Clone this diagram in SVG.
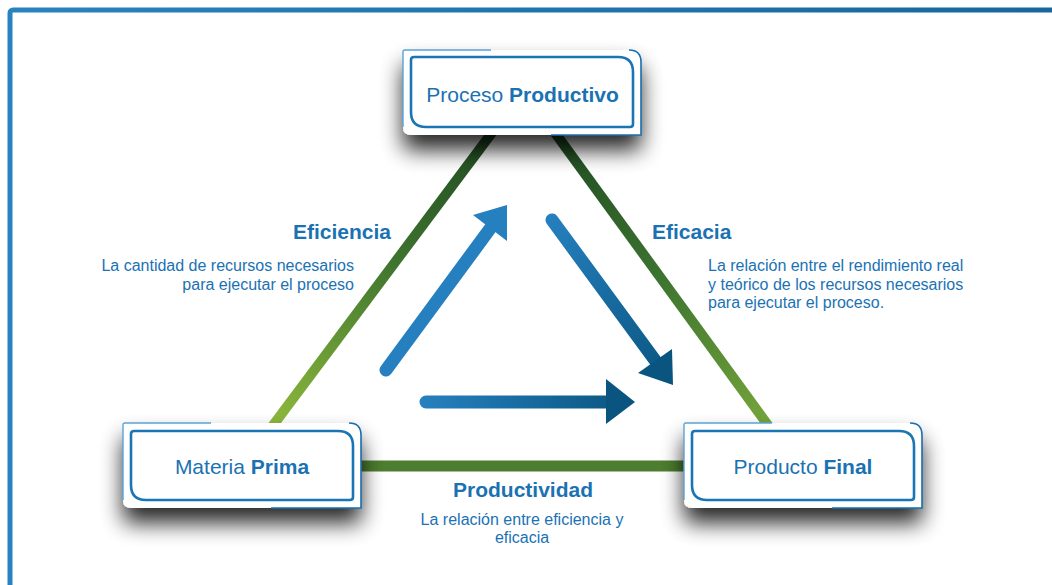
<svg xmlns="http://www.w3.org/2000/svg" width="1052" height="585" viewBox="0 0 1052 585">
  <style>
    text { font-family: "Liberation Sans", Arial, Helvetica, sans-serif; fill: #1a72b3; }
    .head { font-size: 21px; font-weight: bold; }
    .desc { font-size: 16px; }
    .node-text { font-size: 21px; }
    .b { font-weight: bold; }
    .inner { fill: #ffffff; stroke: #1a75b5; stroke-width: 2.6; }
    .outer { fill: #ffffff; }
    .edge-light { fill: none; stroke: #5aa3d6; stroke-width: 1.4; }
    .edge-dark { fill: none; stroke: #1a6fae; stroke-width: 1.6; }
  </style>
  <defs>
    <linearGradient id="frameGrad" x1="0" y1="0" x2="1052" y2="0" gradientUnits="userSpaceOnUse">
      <stop offset="0" stop-color="#2a82c0"/>
      <stop offset="1" stop-color="#17679c"/>
    </linearGradient>
    <linearGradient id="gLeft" x1="494" y1="130" x2="271" y2="428" gradientUnits="userSpaceOnUse">
      <stop offset="0" stop-color="#1f4a22"/>
      <stop offset="0.45" stop-color="#3f752f"/>
      <stop offset="1" stop-color="#8fba3c"/>
    </linearGradient>
    <linearGradient id="gRight" x1="553" y1="130" x2="770" y2="428" gradientUnits="userSpaceOnUse">
      <stop offset="0" stop-color="#1f4a22"/>
      <stop offset="0.5" stop-color="#3d7430"/>
      <stop offset="1" stop-color="#76a63a"/>
    </linearGradient>
    <linearGradient id="a2" x1="548" y1="215" x2="673" y2="385" gradientUnits="userSpaceOnUse">
      <stop offset="0" stop-color="#2680bf"/>
      <stop offset="1" stop-color="#09557f"/>
    </linearGradient>
    <linearGradient id="a3" x1="420" y1="0" x2="635" y2="0" gradientUnits="userSpaceOnUse">
      <stop offset="0" stop-color="#2680bf"/>
      <stop offset="1" stop-color="#09557f"/>
    </linearGradient>
    <filter id="shadow" x="-25%" y="-40%" width="150%" height="220%">
      <feGaussianBlur in="SourceAlpha" stdDeviation="11"/>
      <feOffset dx="0" dy="15" result="b"/>
      <feComponentTransfer><feFuncA type="linear" slope="0.85"/></feComponentTransfer>
      <feMerge><feMergeNode/><feMergeNode in="SourceGraphic"/></feMerge>
    </filter>
    <g id="nodeShape">
      <path class="outer" d="M2,0 H228 Q238,0 238,10 V85 H8 Q0,85 0,77 V2 Q0,0 2,0 Z"/>
    </g>
  </defs>

  <rect x="0" y="0" width="1052" height="585" fill="#ffffff"/>
  <rect x="10" y="10" width="1100" height="700" rx="3" fill="none" stroke="url(#frameGrad)" stroke-width="5"/>

  <g id="connectors">
    <line x1="494" y1="130" x2="271" y2="428" stroke="url(#gLeft)" stroke-width="10"/>
    <line x1="553" y1="130" x2="770" y2="428" stroke="url(#gRight)" stroke-width="10"/>
    <line x1="355" y1="466" x2="690" y2="466" stroke="#4d7d2e" stroke-width="11"/>

    <g id="arrow-up">
      <line x1="386" y1="370" x2="492" y2="226" stroke="#2680bf" stroke-width="13" stroke-linecap="round"/>
      <polygon points="507,205 473,215 507,241" fill="#2680bf"/>
    </g>
    <g id="arrow-down">
      <line x1="552" y1="220" x2="657" y2="363" stroke="url(#a2)" stroke-width="13" stroke-linecap="round"/>
      <polygon points="673,385 638,373 672,349" fill="#09557f"/>
    </g>
    <g id="arrow-right">
      <line x1="426" y1="402" x2="610" y2="402" stroke="url(#a3)" stroke-width="13" stroke-linecap="round"/>
      <polygon points="635,402 606,379 606,424" fill="#09557f"/>
    </g>
  </g>

  <g id="node-proceso" transform="translate(403,50)">
    <g filter="url(#shadow)"><use href="#nodeShape"/></g>
    <path class="edge-light" d="M0,77 V2 Q0,0 2,0 H88"/>
    <path class="edge-dark" d="M226,0 Q238,0 238,12 V85 H148"/>
    <path class="inner" d="M11,7 H215 Q230,7 230,22 V74 Q230,77 227,77 H23 Q8,77 8,62 V10 Q8,7 11,7 Z"/>
    <text class="node-text" x="119.5" y="52" text-anchor="middle">Proceso <tspan class="b">Productivo</tspan></text>
  </g>

  <g id="node-materia" transform="translate(123,423)">
    <g filter="url(#shadow)"><use href="#nodeShape"/></g>
    <path class="edge-light" d="M0,77 V2 Q0,0 2,0 H88"/>
    <path class="edge-dark" d="M226,0 Q238,0 238,12 V85 H148"/>
    <path class="inner" d="M11,8 H215 Q230,8 230,23 V74 Q230,77 227,77 H23 Q8,77 8,62 V11 Q8,8 11,8 Z"/>
    <text class="node-text" x="119" y="51" text-anchor="middle">Materia <tspan class="b">Prima</tspan></text>
  </g>

  <g id="node-producto" transform="translate(684,423)">
    <g filter="url(#shadow)"><use href="#nodeShape"/></g>
    <path class="edge-light" d="M0,77 V2 Q0,0 2,0 H88"/>
    <path class="edge-dark" d="M226,0 Q238,0 238,12 V85 H148"/>
    <path class="inner" d="M11,8 H215 Q230,8 230,23 V74 Q230,77 227,77 H23 Q8,77 8,62 V11 Q8,8 11,8 Z"/>
    <text class="node-text" x="119" y="51" text-anchor="middle">Producto <tspan class="b">Final</tspan></text>
  </g>

  <g id="label-eficiencia">
    <text class="head" x="391" y="239" text-anchor="end">Eficiencia</text>
    <text class="desc" x="354" y="271" text-anchor="end">La cantidad de recursos necesarios</text>
    <text class="desc" x="354" y="290" text-anchor="end">para ejecutar el proceso</text>
  </g>

  <g id="label-eficacia">
    <text class="head" x="652" y="239">Eficacia</text>
    <text class="desc" x="708" y="271">La relación entre el rendimiento real</text>
    <text class="desc" x="708" y="289.5">y teórico de los recursos necesarios</text>
    <text class="desc" x="708" y="308">para ejecutar el proceso.</text>
  </g>

  <g id="label-productividad">
    <text class="head" x="523" y="497" text-anchor="middle">Productividad</text>
    <text class="desc" x="522" y="525" text-anchor="middle">La relación entre eficiencia y</text>
    <text class="desc" x="522" y="543" text-anchor="middle">eficacia</text>
  </g>
</svg>
